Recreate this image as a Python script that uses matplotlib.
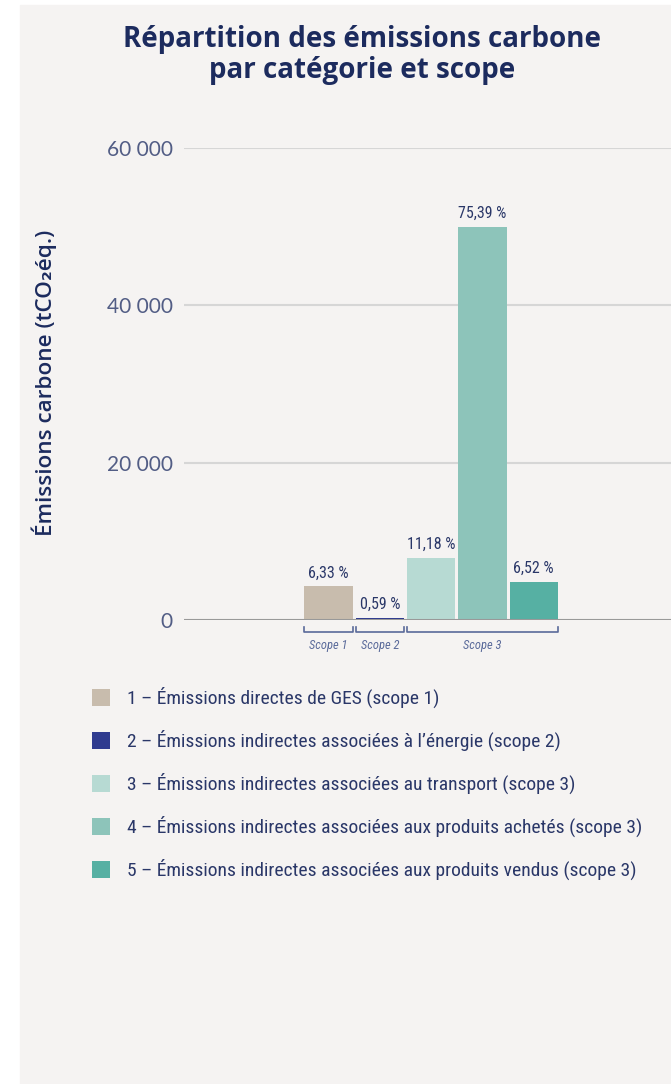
import matplotlib.pyplot as plt
from matplotlib import font_manager
from matplotlib.patches import Rectangle

# data
categories = [
    "1 – Émissions directes de GES (scope 1)",
    "2 – Émissions indirectes associées à l’énergie (scope 2)",
    "3 – Émissions indirectes associées au transport (scope 3)",
    "4 – Émissions indirectes associées aux produits achetés (scope 3)",
    "5 – Émissions indirectes associées aux produits vendus (scope 3)",
]
values = [4300, 300, 7900, 50000, 4850]
percent_labels = ["6,33 %", "0,59 %", "11,18 %", "75,39 %", "6,52 %"]
colors = ["#c8bcad", "#2f3b8f", "#b7dad3", "#8dc4ba", "#56b0a3"]
scopes = ["Scope 1", "Scope 2", "Scope 3"]
scope_bars = [(0, 0), (1, 1), (2, 4)]
yticks = [0, 20000, 40000, 60000]
ytick_labels = ["0", "20 000", "40 000", "60 000"]

names = {f.name for f in font_manager.fontManager.ttflist}
cond = next((n for n in ["Roboto Condensed", "Liberation Sans Narrow", "Open Sans Condensed"]
             if n in names), "Roboto")

navy = "#1c2b5e"
text_blue = "#2a3768"

W, H = 671, 1084
fig = plt.figure(figsize=(W / 100, H / 100), dpi=100)
fig.patches.append(Rectangle((20 / W, 0), 1 - 20 / W, 1 - 5 / H, transform=fig.transFigure,
                             color="#f5f3f2", zorder=-10))

ax = fig.add_axes([184 / W, 1 - 620 / H, 1 - 184 / W, 472 / H])
ax.set_facecolor("none")

x = list(range(len(values)))
bar_w = 0.94
bars = ax.bar(x, values, width=bar_w, color=colors, zorder=3)
ax.bar_label(bars, labels=percent_labels, padding=4, color=text_blue,
             fontsize=11.5, family=cond)

ax.set_xlim(-2.817, 6.676)
ax.set_ylim(0, 60000)
ax.set_yticks(yticks, ytick_labels)
ax.set_xticks([])
ax.tick_params(axis="y", length=0, pad=8, labelsize=15, labelcolor="#525d85")
for t in ax.get_yticklabels():
    t.set_family("Lato")
for s in ax.spines.values():
    s.set_visible(False)
ax.yaxis.grid(True, color="#d6d6d6", linewidth=1.5, zorder=0)
ax.axhline(0, color="#999999", linewidth=2.2, zorder=4)

# scope brackets under the bars
px = 60000 / 472
for name, (i0, i1) in zip(scopes, scope_bars):
    x0 = i0 - bar_w / 2
    x1 = i1 + bar_w / 2
    ax.plot([x0, x0, x1, x1], [-7 * px, -11.5 * px, -11.5 * px, -7 * px],
            color="#5a6a9a", linewidth=1.2, clip_on=False)
    ax.text((x0 + x1) / 2, -25 * px, name, ha="center", va="center",
            fontsize=9, style="italic", color="#5a6a9a", family=cond)

fig.text(362 / W, 1 - 55 / H, "Répartition des émissions carbone\npar catégorie et scope",
         ha="center", va="center", fontsize=20, fontweight="bold", color=navy,
         family="Open Sans", linespacing=1.05)
fig.text(44 / W, 1 - 383 / H, "Émissions carbone (tCO₂éq.)", rotation=90,
         ha="center", va="center", fontsize=16.2, fontweight="semibold", color=navy,
         family=["Open Sans", "DejaVu Sans"])

fig.legend(bars, categories, loc="upper left", bbox_to_anchor=(92 / W, 1 - 687 / H),
           frameon=False, borderpad=0, borderaxespad=0,
           handlelength=0.93, handleheight=0.93, handletextpad=0.87,
           labelspacing=1.12, labelcolor=text_blue, prop={"family": cond, "size": 14.0})

fig.savefig("out.png", dpi=100)
